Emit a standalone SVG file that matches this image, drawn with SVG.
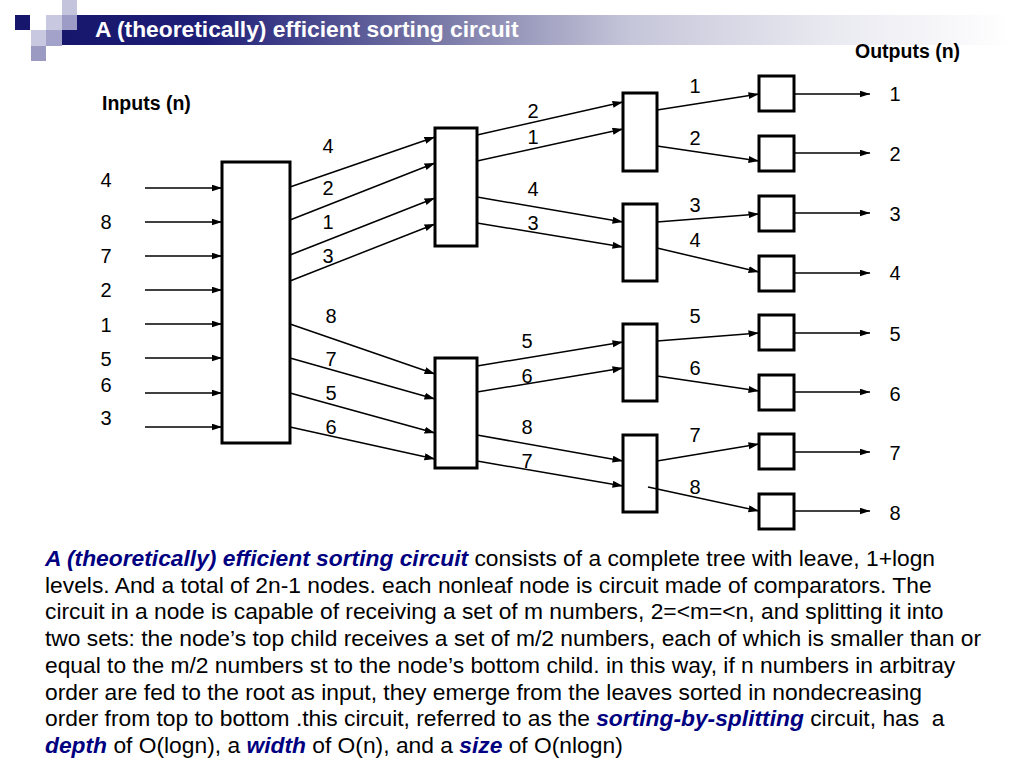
<svg xmlns="http://www.w3.org/2000/svg" width="1024" height="768" viewBox="0 0 1024 768">
<defs>
  <linearGradient id="bar" x1="62" y1="0" x2="1012" y2="0" gradientUnits="userSpaceOnUse">
    <stop offset="0" stop-color="#16166c"/>
    <stop offset="0.15" stop-color="#1f1f78"/>
    <stop offset="0.4" stop-color="#7a7aa8"/>
    <stop offset="0.6" stop-color="#c6c6da"/>
    <stop offset="0.8" stop-color="#e8e8f0"/>
    <stop offset="1" stop-color="#ffffff"/>
  </linearGradient>
  <marker id="ah" markerUnits="userSpaceOnUse" markerWidth="11" markerHeight="8" refX="10.5" refY="3.5" orient="auto">
    <path d="M0,0 L10.5,3.5 L0,7 z" fill="#000"/>
  </marker>
  <style>
    .box { fill: #fff; stroke: #000; stroke-width: 3; }
    .c { stroke: #000; stroke-width: 1.5; fill: none; marker-end: url(#ah); }
    .lbl { font-family: "Liberation Sans", Arial, sans-serif; font-size: 20px; fill: #000; }
    .num { text-anchor: middle; }
    .hd { font-family: "Liberation Sans", Arial, sans-serif; font-size: 19.5px; font-weight: bold; fill: #000; }
    .para { font-family: "Liberation Sans", Arial, sans-serif; font-size: 22.8px; fill: #000; }
    .em { font-weight: bold; font-style: italic; fill: #000080; }
  </style>
</defs>
<rect width="1024" height="768" fill="#fff"/>

<g id="header">
  <rect x="62" y="15" width="950" height="30" fill="url(#bar)"/>
  <rect x="15" y="15" width="15" height="15" fill="#16166c"/>
  <rect x="46" y="15" width="16" height="15" fill="#c8c8e0"/>
  <rect x="62" y="0" width="15" height="15" fill="#c4c4dc"/>
  <rect x="62" y="15" width="15" height="15" fill="#9c9cc6"/>
  <rect x="31" y="30" width="15" height="16" fill="#c8c8e0"/>
  <rect x="46" y="30" width="16" height="16" fill="#a2a2ca"/>
  <rect x="31" y="46" width="15" height="15" fill="#9a9ac2"/>
  <text x="95" y="37" font-family="Liberation Sans, Arial, sans-serif" font-size="22.8" font-weight="bold" fill="#fff">A (theoretically) efficient sorting circuit</text>
</g>

<text class="hd" x="102" y="110">Inputs (n)</text>
<text class="hd" x="855" y="58">Outputs (n)</text>

<g id="root"><rect class="box" x="222" y="162" width="68" height="281"/></g>
<g id="mid-top"><rect class="box" x="435" y="128" width="42" height="118"/></g>
<g id="mid-bottom"><rect class="box" x="435" y="358" width="42" height="110"/></g>
<g id="n3-1"><rect class="box" x="623" y="93" width="34" height="78"/></g>
<g id="n3-2"><rect class="box" x="623" y="204" width="34" height="77"/></g>
<g id="n3-3"><rect class="box" x="623" y="324" width="34" height="77"/></g>
<g id="n3-4"><rect class="box" x="623" y="435" width="34" height="77"/></g>
<g id="leaf-1"><rect class="box" x="759" y="76" width="35" height="35"/></g>
<g id="leaf-2"><rect class="box" x="759" y="136" width="35" height="35"/></g>
<g id="leaf-3"><rect class="box" x="759" y="196" width="35" height="35"/></g>
<g id="leaf-4"><rect class="box" x="759" y="256" width="35" height="35"/></g>
<g id="leaf-5"><rect class="box" x="759" y="315" width="35" height="35"/></g>
<g id="leaf-6"><rect class="box" x="759" y="375" width="35" height="35"/></g>
<g id="leaf-7"><rect class="box" x="759" y="434" width="35" height="35"/></g>
<g id="leaf-8"><rect class="box" x="759" y="494" width="35" height="35"/></g>

<g id="connectors">
  <line class="c" x1="145" y1="188" x2="222" y2="188"/>
  <line class="c" x1="145" y1="222" x2="222" y2="222"/>
  <line class="c" x1="145" y1="256" x2="222" y2="256"/>
  <line class="c" x1="145" y1="290" x2="222" y2="290"/>
  <line class="c" x1="145" y1="324" x2="222" y2="324"/>
  <line class="c" x1="145" y1="358" x2="222" y2="358"/>
  <line class="c" x1="145" y1="393" x2="222" y2="393"/>
  <line class="c" x1="145" y1="427" x2="222" y2="427"/>

  <line class="c" x1="290" y1="187" x2="435" y2="137"/>
  <line class="c" x1="290" y1="220" x2="435" y2="163"/>
  <line class="c" x1="290" y1="255" x2="435" y2="198"/>
  <line class="c" x1="290" y1="281" x2="435" y2="224"/>
  <line class="c" x1="290" y1="324" x2="435" y2="374"/>
  <line class="c" x1="290" y1="358" x2="435" y2="399"/>
  <line class="c" x1="290" y1="393" x2="435" y2="433"/>
  <line class="c" x1="290" y1="427" x2="435" y2="459"/>

  <line class="c" x1="477" y1="135" x2="623" y2="102"/>
  <line class="c" x1="477" y1="161" x2="623" y2="129"/>
  <line class="c" x1="477" y1="197" x2="623" y2="222"/>
  <line class="c" x1="477" y1="223" x2="623" y2="247"/>
  <line class="c" x1="477" y1="366" x2="623" y2="342"/>
  <line class="c" x1="477" y1="392" x2="623" y2="368"/>
  <line class="c" x1="477" y1="435" x2="623" y2="461"/>
  <line class="c" x1="477" y1="461" x2="623" y2="486"/>

  <line class="c" x1="657" y1="110" x2="759" y2="94"/>
  <line class="c" x1="657" y1="146" x2="759" y2="161"/>
  <line class="c" x1="657" y1="222" x2="759" y2="214"/>
  <line class="c" x1="657" y1="248" x2="759" y2="272"/>
  <line class="c" x1="657" y1="341" x2="759" y2="333"/>
  <line class="c" x1="657" y1="376" x2="759" y2="391"/>
  <line class="c" x1="657" y1="461" x2="759" y2="444"/>
  <line class="c" x1="648" y1="487" x2="759" y2="511"/>

  <line class="c" x1="794" y1="94" x2="870" y2="94"/>
  <line class="c" x1="794" y1="153" x2="870" y2="153"/>
  <line class="c" x1="794" y1="213" x2="870" y2="213"/>
  <line class="c" x1="794" y1="273" x2="870" y2="273"/>
  <line class="c" x1="794" y1="333" x2="870" y2="333"/>
  <line class="c" x1="794" y1="392" x2="870" y2="392"/>
  <line class="c" x1="794" y1="452" x2="870" y2="452"/>
  <line class="c" x1="794" y1="511" x2="870" y2="511"/>
</g>

<g id="labels" class="lbl num">
  <text x="106" y="187">4</text>
  <text x="106" y="229">8</text>
  <text x="106" y="263">7</text>
  <text x="106" y="297">2</text>
  <text x="106" y="332">1</text>
  <text x="106" y="366">5</text>
  <text x="106" y="392">6</text>
  <text x="106" y="425">3</text>

  <text x="328" y="153">4</text>
  <text x="328" y="195">2</text>
  <text x="328" y="229">1</text>
  <text x="328" y="263">3</text>
  <text x="331" y="323">8</text>
  <text x="331" y="366">7</text>
  <text x="331" y="400">5</text>
  <text x="331" y="434">6</text>

  <text x="533" y="118">2</text>
  <text x="533" y="144">1</text>
  <text x="533" y="196">4</text>
  <text x="533" y="230">3</text>
  <text x="527" y="348">5</text>
  <text x="527" y="383">6</text>
  <text x="527" y="434">8</text>
  <text x="527" y="468">7</text>

  <text x="695" y="93">1</text>
  <text x="695" y="145">2</text>
  <text x="695" y="212">3</text>
  <text x="695" y="247">4</text>
  <text x="695" y="323">5</text>
  <text x="695" y="375">6</text>
  <text x="695" y="442">7</text>
  <text x="695" y="494">8</text>

  <text x="895" y="101">1</text>
  <text x="895" y="161">2</text>
  <text x="895" y="221">3</text>
  <text x="895" y="280">4</text>
  <text x="895" y="341">5</text>
  <text x="895" y="401">6</text>
  <text x="895" y="460">7</text>
  <text x="895" y="520">8</text>
</g>

<g id="description" class="para">
  <text x="45" y="566"><tspan class="em">A (theoretically) efficient sorting circuit</tspan> consists of a complete tree with leave, 1+logn</text>
  <text x="45" y="592.7">levels. And a total of 2n-1 nodes. each nonleaf node is circuit made of comparators. The</text>
  <text x="45" y="619.4">circuit in a node is capable of receiving a set of m numbers, 2=&lt;m=&lt;n, and splitting it into</text>
  <text x="45" y="646.1">two sets: the node’s top child receives a set of m/2 numbers, each of which is smaller than or</text>
  <text x="45" y="672.8">equal to the m/2 numbers st to the node’s bottom child. in this way, if n numbers in arbitray</text>
  <text x="45" y="699.5">order are fed to the root as input, they emerge from the leaves sorted in nondecreasing</text>
  <text x="45" y="726.2" xml:space="preserve">order from top to bottom .this circuit, referred to as the <tspan class="em">sorting-by-splitting</tspan> circuit, has  a</text>
  <text x="45" y="752.9"><tspan class="em">depth</tspan> of O(logn), a <tspan class="em">width</tspan> of O(n), and a <tspan class="em">size</tspan> of O(nlogn)</text>
</g>
</svg>
